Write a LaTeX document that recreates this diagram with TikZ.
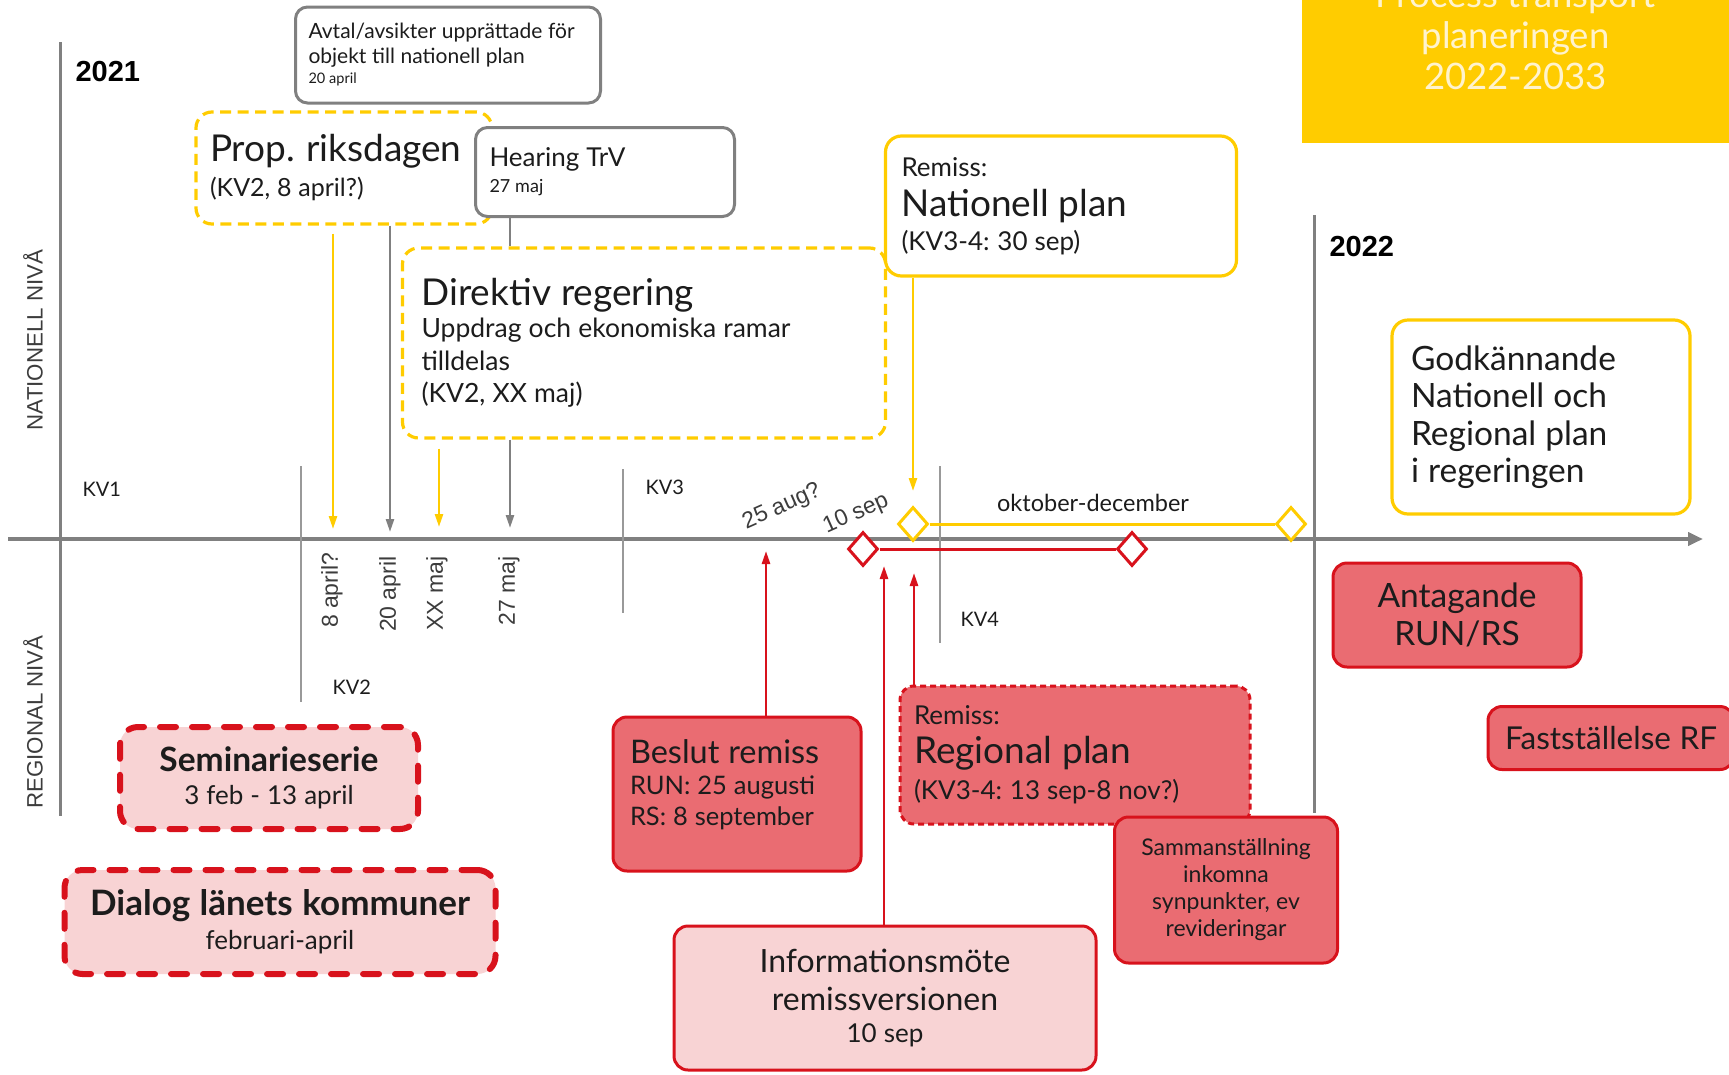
\documentclass[tikz,border=0pt]{standalone}
\usepackage{fontspec}
\setmainfont{Lato}
\newfontfamily\arialfont{Liberation Sans}
\usetikzlibrary{positioning,arrows.meta,shapes.geometric}
\definecolor{trvyellow}{RGB}{255,204,0}
\definecolor{linegray}{RGB}{128,128,128}
\definecolor{trvred}{RGB}{216,18,28}
\definecolor{redfill}{RGB}{234,108,114}
\definecolor{pinkfill}{RGB}{248,211,212}
\definecolor{titletext}{RGB}{255,243,205}
\definecolor{txt}{RGB}{28,28,28}
\definecolor{lbltxt}{RGB}{60,60,60}
\newcommand\fs[2]{\fontsize{#1}{#2}\selectfont\spaceskip=0.27em\relax\xspaceskip=0.3em\relax}

\begin{document}
\begin{tikzpicture}[x=1pt, y=-1pt,
    every node/.style={text=txt},
    gbox/.style={draw=linegray, line width=3pt, rounded corners=12pt, inner sep=0pt, align=left},
    ybox/.style={draw=trvyellow, line width=3.2pt, rounded corners=16pt, inner sep=0pt, align=left},
    ydash/.style={ybox, dash pattern=on 11pt off 6.5pt},
    rbox/.style={draw=trvred, fill=redfill, line width=3pt, rounded corners=14pt, inner sep=0pt},
    pbox/.style={rbox, fill=pinkfill},
    rdash/.style={pbox, line width=6pt, dash pattern=on 16pt off 16pt, line cap=round, rounded corners=18pt},
    timeline/.style={draw=linegray, line width=4pt},
    divider/.style={draw=linegray!80, line width=1.3pt},
    garrow/.style={draw=linegray, line width=2.5pt, -{Triangle[length=13pt,width=8pt]}},
    yarrow/.style={garrow, draw=trvyellow},
    rarrow/.style={garrow, draw=trvred},
    ydiam/.style={diamond, draw=trvyellow, fill=white, line width=3pt, minimum width=30pt, minimum height=34pt, inner sep=0pt},
    rdiam/.style={ydiam, draw=trvred},
    kv/.style={font=\fs{20}{24}, anchor=west},
    datelbl/.style={font=\arialfont\fs{23}{26}, text=lbltxt, rotate=90, anchor=east},
    nivalbl/.style={font=\arialfont\fs{22.3}{26}, text=lbltxt, rotate=90}
  ]
  \useasboundingbox (0,0) rectangle (1729,1074);
  \clip (0,0) rectangle (1729,1074);

  \node[fill=trvyellow, minimum width=427pt, minimum height=214pt, text width=420pt, align=center, text=titletext] (Title) at (1515.5,36) {\fs{36.5}{41}Process transport\\planeringen\\2022-2033\par};

  \draw[timeline, line width=3pt] (60,42) -- (60,816);
  \draw[timeline, line width=3pt] (1314,215) -- (1314,813);
  \draw[timeline, -{Triangle[length=15pt,width=13pt]}] (8,539) -- (1703,539);
  \draw[divider] (301,466) -- (301,702);
  \draw[divider] (623,469) -- (623,613);
  \draw[divider] (940,466) -- (940,643);

  \node[font=\arialfont\bfseries\fs{29}{30}, text=black, anchor=west] (Y21) at (72,72) {2021};
  \node[font=\arialfont\bfseries\fs{29}{30}, text=black, anchor=west] (Y22) at (1326,247) {2022};
  \node[nivalbl] (NatN) at (33,340) {NATIONELL NIVÅ};
  \node[nivalbl] (RegN) at (33,722) {REGIONAL NIVÅ};
  \node[kv] (KV1) at (79,489) {KV1};
  \node[kv] (KV2) at (329,687) {KV2};
  \node[kv] (KV3) at (642,487) {KV3};
  \node[kv] (KV4) at (957,619) {KV4};

  \node[gbox, fill=white, minimum width=305pt, minimum height=96pt, text width=279pt] (Avtal) at (448,55) {\fs{21}{25}Avtal/avsikter upprättade för\\objekt till nationell plan\par\fs{14.5}{20}20 april\par};
  \node[ydash, minimum width=296pt, minimum height=112pt, text width=268pt] (Prop) at (344,168) {\fs{37}{38}Prop. riksdagen\par\fs{25}{35}(KV2, 8 april?)\par};
  \node[gbox, fill=white, minimum width=259pt, minimum height=89pt, text width=231pt] (Hear) at (605,172) {\fs{26}{28}Hearing TrV\par\fs{18}{26}27 maj\par};
  \node[ydash, minimum width=483pt, minimum height=190pt, text width=445pt] (Dir) at (644,343) {\fs{37}{40}Direktiv regering\par\fs{26.5}{32.5}Uppdrag och ekonomiska ramar\\tilldelas\\(KV2, XX maj)\par};
  \node[ybox, fill=white, minimum width=351pt, minimum height=140pt, text width=319pt] (RemN) at (1061,206) {\fs{26}{29}Remiss:\par\fs{37}{40}Nationell plan\par\fs{26}{34}(KV3-4: 30 sep)\par};
  \node[ybox, minimum width=298pt, minimum height=194pt, text width=260pt] (Godk) at (1541,417) {\fs{33.5}{37.5}Godkännande\\Nationell och\\Regional plan\\i regeringen\par};

  \node[rbox, minimum width=248pt, minimum height=104pt, text width=228pt, align=center] (Ant) at (1457,615) {\fs{33.5}{38.5}Antagande\\RUN/RS\par};
  \node[rbox, minimum width=246pt, minimum height=63pt, align=center] (Fast) at (1611,738) {\fs{31.5}{34}Fastställelse RF};
  \node[rbox, minimum width=248pt, minimum height=154pt, text width=214pt, text depth=85pt, align=left] (Besl) at (737,794) {\fs{32.5}{34}Beslut remiss\par\fs{25.5}{31}RUN: 25 augusti\\RS: 8 september\par};
  \node[rbox, dash pattern=on 6pt off 4pt, minimum width=350pt, minimum height=138pt, text width=322pt, align=left] (RemR) at (1075,755) {\fs{26}{28}Remiss:\par\fs{37}{39}Regional plan\par\fs{26}{36}(KV3-4: 13 sep-8 nov?)\par};
  \node[rbox, minimum width=223pt, minimum height=146pt, text width=203pt, align=center] (Samm) at (1226,890) {\fs{23}{27}Sammanställning\\inkomna\\synpunkter, ev\\revideringar\par};
  \node[pbox, minimum width=422pt, minimum height=144pt, text width=400pt, align=center] (Info) at (885,998) {\fs{32}{37.5}Informationsmöte\\remissversionen\par\fs{26}{32}10 sep\par};
  \node[rdash, minimum width=298pt, minimum height=102pt, text width=278pt, align=center] (Sem) at (269,778) {\fs{33.5}{33}\bfseries Seminarieserie\par\fs{26}{33}\mdseries 3 feb - 13 april\par};
  \node[rdash, minimum width=431pt, minimum height=104pt, text width=411pt, align=center] (Dial) at (280,922) {\fs{35}{35}\bfseries Dialog länets kommuner\par\fs{26}{34}\mdseries februari-april\par};

  \node[datelbl] (D8apr) at (332,549) {8 april?};
  \node[datelbl] (D20apr) at (390,553) {20 april};
  \node[datelbl] (Dxx) at (437,553) {XX maj};
  \node[datelbl] (D27) at (509,553) {27 maj};
  \node[font=\arialfont\fs{23}{26}, text=lbltxt, rotate=24] (D25aug) at (782,507) {25 aug?};
  \node[font=\arialfont\fs{23}{26}, text=lbltxt, rotate=24] (D10sep) at (856,514) {10 sep};
  \node[font=\fs{23.5}{26}] (OktDec) at (1093,503) {oktober-december};

  \node[ydiam] (YD1) at (913,524) {};
  \node[ydiam, right=345pt of YD1] (YD2) {};
  \node[rdiam] (RD1) at (863,549) {};
  \node[rdiam, right=236pt of RD1] (RD2) {};
  \draw[trvyellow, line width=3pt] (YD1.east) -- (YD2.west);
  \draw[trvred, line width=3pt] (RD1.east) -- (RD2.west);

  \coordinate (T8apr) at (333,529);
  \coordinate (T20apr) at (390,532);
  \coordinate (Txx) at (439,527);
  \coordinate (T27) at (510,528);
  \coordinate (T30sep) at (913,491);
  \coordinate (B25aug) at (766,551);
  \coordinate (B10sep) at (884,566);
  \coordinate (B13sep) at (914,573);
  \draw[yarrow, shorten <=8pt] (Prop.south -| T8apr) -- (T8apr);
  \draw[garrow] (Prop.south -| T20apr) -- (T20apr);
  \draw[yarrow, shorten <=9pt] (Dir.south -| Txx) -- (Txx);
  \draw[garrow] (Dir.south -| T27) -- (T27);
  \draw[linegray, line width=2.5pt] (Hear.south -| T27) -- (Dir.north -| T27);
  \draw[yarrow] (RemN.south -| T30sep) -- (T30sep);
  \draw[rarrow] (Besl.north -| B25aug) -- (B25aug);
  \draw[rarrow] (Info.north -| B10sep) -- (B10sep);
  \draw[rarrow] (RemR.north -| B13sep) -- (B13sep);
\end{tikzpicture}
\end{document}
